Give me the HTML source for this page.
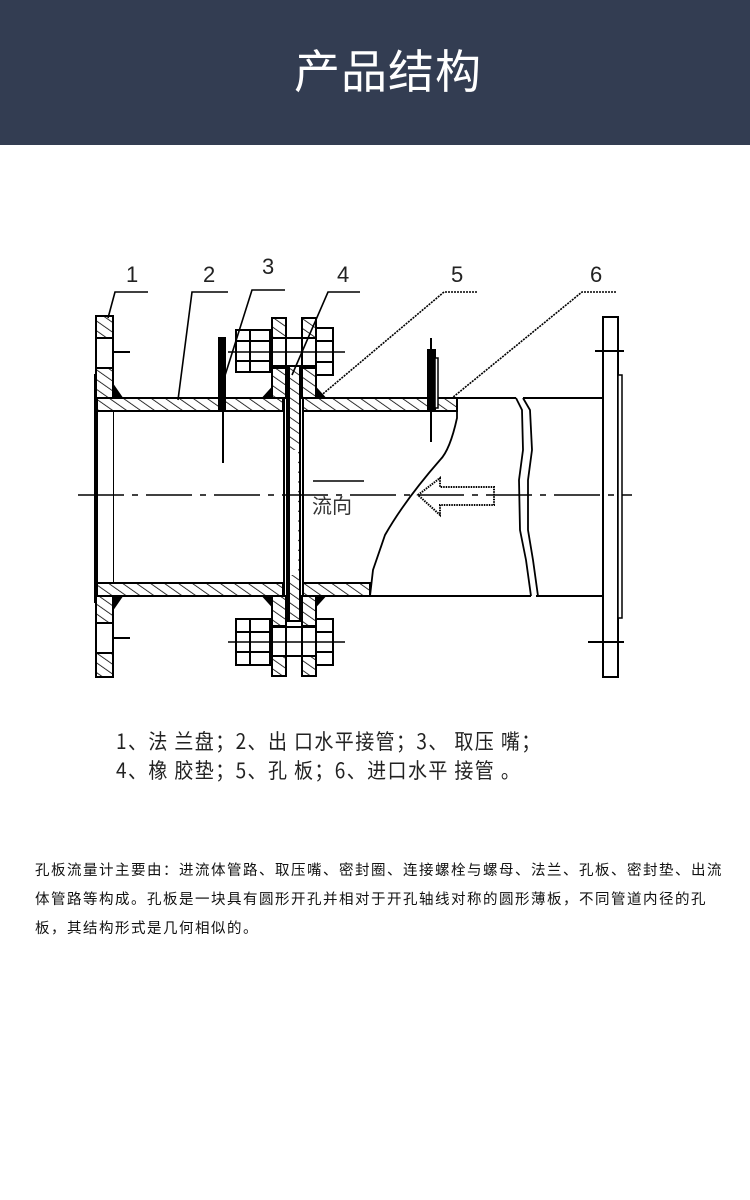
<!DOCTYPE html>
<html><head><meta charset="utf-8">
<style>
*{margin:0;padding:0}
body{width:750px;height:1200px;background:#fff;position:relative;overflow:hidden;font-family:"Liberation Sans","Noto Sans CJK SC",sans-serif}
.hd{position:absolute;left:0;top:0;width:750px;height:145px;background:#333d52;color:#fff;font-size:46px;text-align:center;line-height:145px;letter-spacing:1px;padding-left:26px;box-sizing:border-box}
.lg{position:absolute;left:116px;font-family:"Noto Sans CJK SC",sans-serif;font-size:19px;color:#222;letter-spacing:1.4px;transform:scaleY(1.1);transform-origin:left top;white-space:nowrap}
.p{position:absolute;left:35px;top:855px;width:720px;font-family:"Noto Sans CJK SC",sans-serif;font-size:14.5px;letter-spacing:1.5px;line-height:29px;color:#111;white-space:nowrap}
</style></head><body>
<div class="hd">产品结构</div>
<svg style="position:absolute;left:0;top:0" width="750" height="1200" viewBox="0 0 750 1200">
<defs>
<pattern id="h" width="8" height="8" patternUnits="userSpaceOnUse" patternTransform="rotate(-55)">
<rect width="8" height="8" fill="#fff"/><line x1="0" y1="0" x2="0" y2="8" stroke="#000" stroke-width="1.6"/>
</pattern>
</defs>
<g stroke="#000" stroke-width="2" fill="none">
<rect x="96" y="316" width="17" height="361" fill="url(#h)"/>
<rect x="96" y="338" width="17" height="30" fill="#fff"/>
<rect x="96" y="623" width="17" height="30" fill="#fff"/>
<line x1="113" y1="352" x2="130" y2="352"/>
<line x1="113" y1="638" x2="130" y2="638"/>
<line x1="95" y1="374" x2="95" y2="603"/>
<rect x="96" y="398" width="17" height="198" fill="#fff" stroke="none"/>
<rect x="97" y="398" width="186" height="13" fill="url(#h)"/>
<rect x="97" y="583" width="186" height="13" fill="url(#h)"/>
<rect x="303" y="398" width="154" height="13" fill="url(#h)"/>
<rect x="303" y="583" width="67" height="13" fill="url(#h)"/>
<line x1="97" y1="411" x2="97" y2="583"/>
<path d="M113 385 L122 398 L113 398Z" fill="#000"/>
<path d="M113 609 L122 596 L113 596Z" fill="#000"/>
<path d="M272 388 L263 398 L272 398Z" fill="#000"/>
<path d="M316 388 L325 398 L316 398Z" fill="#000"/>
<path d="M272 606 L263 596 L272 596Z" fill="#000"/>
<path d="M316 606 L325 596 L316 596Z" fill="#000"/>
<rect x="272" y="318" width="14" height="80" fill="url(#h)"/>
<rect x="302" y="318" width="14" height="80" fill="url(#h)"/>
<rect x="272" y="338" width="14" height="30" fill="#fff"/>
<rect x="302" y="338" width="14" height="30" fill="#fff"/>
<rect x="272" y="596" width="14" height="80" fill="url(#h)"/>
<rect x="302" y="596" width="14" height="80" fill="url(#h)"/>
<rect x="272" y="626" width="14" height="30" fill="#fff"/>
<rect x="302" y="626" width="14" height="30" fill="#fff"/>
<rect x="236" y="330" width="34" height="42" fill="#fff"/>
<line x1="250" y1="330" x2="250" y2="372"/><line x1="236" y1="341" x2="270" y2="341"/><line x1="236" y1="361" x2="270" y2="361"/>
<rect x="316" y="328" width="17" height="47" fill="#fff"/>
<line x1="316" y1="341" x2="333" y2="341"/><line x1="316" y1="362" x2="333" y2="362"/>
<line x1="270" y1="338" x2="316" y2="338"/><line x1="270" y1="366" x2="316" y2="366"/>
<line x1="228" y1="352" x2="345" y2="352" stroke-width="1.5"/>
<rect x="236" y="619" width="34" height="46" fill="#fff"/>
<line x1="250" y1="619" x2="250" y2="665"/><line x1="236" y1="632" x2="270" y2="632"/><line x1="236" y1="652" x2="270" y2="652"/>
<rect x="316" y="619" width="17" height="46" fill="#fff"/>
<line x1="316" y1="632" x2="333" y2="632"/><line x1="316" y1="652" x2="333" y2="652"/>
<line x1="270" y1="627" x2="316" y2="627"/><line x1="270" y1="656" x2="316" y2="656"/>
<line x1="228" y1="642" x2="345" y2="642" stroke-width="1.5"/>
<rect x="287" y="366" width="13" height="255" fill="url(#h)"/>
<rect x="289" y="450" width="9" height="125" fill="#fff" stroke="none"/>
<line x1="289" y1="366" x2="289" y2="621"/>
<line x1="284" y1="398" x2="284" y2="596"/>
<line x1="303" y1="411" x2="303" y2="583"/>
<rect x="219" y="338" width="6" height="72" fill="#000"/>
<line x1="223" y1="410" x2="223" y2="463"/>
<rect x="428" y="350" width="7" height="60" fill="#000"/>
<rect x="435" y="358" width="3" height="50" fill="#fff" stroke-width="1.5"/>
<line x1="431" y1="338" x2="431" y2="442"/>
<line x1="457" y1="398" x2="516" y2="398"/>
<line x1="523" y1="398" x2="602" y2="398"/>
<line x1="370" y1="596" x2="531" y2="596"/>
<line x1="536" y1="596" x2="602" y2="596"/>
<path d="M457 398 L457 418 Q450 450 440 460 Q405 500 385 535 L373 570 L370 596" stroke-width="1.8"/>
<path d="M516 398 L522 410 L523 450 L519 480 L520 530 L526 560 L531 596" stroke-width="1.8"/>
<path d="M523 398 L530 410 L532 450 L528 480 L528 530 L533 560 L538 596" stroke-width="1.8"/>
<rect x="603" y="317" width="15" height="360" fill="#fff"/>
<rect x="618" y="375" width="4" height="243" fill="#fff" stroke-width="1.5"/>
<line x1="595" y1="351" x2="624" y2="351"/>
<line x1="588" y1="642" x2="624" y2="642"/>
<path d="M418 495 L440 478 L440 487 L494 487 L494 505 L440 505 L440 515 Z" fill="#fff" stroke-dasharray="1.5 1"/>
<line x1="78" y1="495" x2="632" y2="495" stroke-width="1.6" stroke-dasharray="46 8 6 8"/>
<line x1="313" y1="481" x2="364" y2="481" stroke-width="1.5"/>
<g stroke-width="1.6">
<path d="M148 292 L115 292 L108 318"/>
<path d="M228 292 L192 292 L178 400"/>
<path d="M285 290 L252 290 L222 385"/>
<path d="M360 292 L328 292 L292 375"/>
<path d="M477 292 L444 292 L318 398" stroke-dasharray="2 1"/>
<path d="M616 292 L582 292 L452 398" stroke-dasharray="2 1"/>
</g>
</g>
<g font-family="Liberation Sans, sans-serif" font-size="22" fill="#222">
<text x="126" y="282">1</text>
<text x="203" y="282">2</text>
<text x="262" y="274">3</text>
<text x="337" y="282">4</text>
<text x="451" y="282">5</text>
<text x="590" y="282">6</text>
</g>
<text x="312" y="513" font-family="Noto Sans CJK SC, sans-serif" font-size="20" fill="#333">流向</text>
</svg>
<div class="lg" style="top:726px">1、法 兰盘；2、出 口水平接管；3、 取压 嘴；</div>
<div class="lg" style="top:755px">4、橡 胶垫；5、孔 板；6、进口水平 接管 。</div>
<div class="p">孔板流量计主要由：进流体管路、取压嘴、密封圈、连接螺栓与螺母、法兰、孔板、密封垫、出流<br>体管路等构成。孔板是一块具有圆形开孔并相对于开孔轴线对称的圆形薄板，不同管道内径的孔<br>板，其结构形式是几何相似的。</div>
</body></html>
